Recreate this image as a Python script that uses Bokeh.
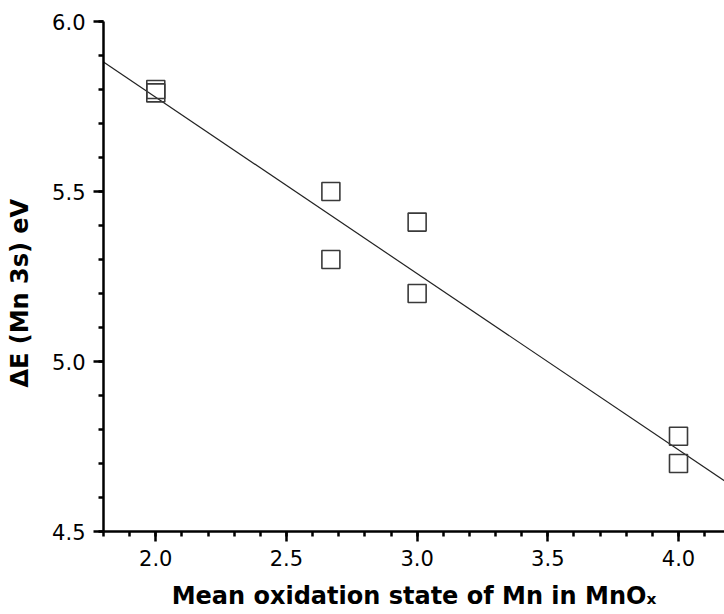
from bokeh.plotting import figure
from bokeh.models import Range1d, SingleIntervalTicker, PrintfTickFormatter
from bokeh.embed import file_html
from bokeh.resources import INLINE

# ---- data ----
oxidation_state = [2.0, 2.0, 2.67, 2.67, 3.0, 3.0, 4.0, 4.0]
delta_e = [5.80, 5.79, 5.50, 5.30, 5.41, 5.20, 4.78, 4.70]

# linear fit drawn in the reference (slope / intercept)
fit_slope = -0.5185
fit_intercept = 6.814

x_label = "Mean oxidation state of Mn in MnO\u2093"
y_label = "\u0394E (Mn 3s) eV"

X_START, X_END = 1.8, 4.176
Y_START, Y_END = 4.5, 6.0

W, H = 724, 614
p = figure(width=W, height=H, output_backend="svg", toolbar_location=None,
           x_range=Range1d(X_START, X_END), y_range=Range1d(Y_START, Y_END),
           min_border_left=103, min_border_right=0, min_border_top=21,
           min_border_bottom=83)
p.outline_line_color = None
p.xgrid.visible = False
p.ygrid.visible = False
p.background_fill_color = "white"
p.border_fill_color = "white"

for ax in (p.xaxis[0], p.yaxis[0]):
    ax.ticker = SingleIntervalTicker(interval=0.5, num_minor_ticks=5)
    ax.formatter = PrintfTickFormatter(format="%.1f")
    ax.axis_line_color = "black"
    ax.axis_line_width = 2.5
    ax.major_tick_line_color = "black"
    ax.major_tick_line_width = 2.5
    ax.minor_tick_line_color = "black"
    ax.minor_tick_line_width = 2.5
    ax.major_tick_in = 0
    ax.major_tick_out = 10
    ax.minor_tick_in = 0
    ax.minor_tick_out = 5
    ax.major_label_text_font = "DejaVu Sans"
    ax.major_label_text_font_size = "21px"
    ax.major_label_text_color = "black"
    ax.major_label_standoff = 8
    ax.axis_label_text_font = "DejaVu Sans"
    ax.axis_label_text_font_style = "bold"
    ax.axis_label_text_font_size = "24px"
    ax.axis_label_text_color = "black"

p.xaxis[0].axis_label = x_label
p.xaxis[0].axis_label_standoff = 13
# trailing no-break spaces shift the rotated title down along the axis, as in the reference
p.yaxis[0].axis_label = y_label + "\u00a0" * 4
p.yaxis[0].axis_label_standoff = 15

# fit line across the full x range (clipped by the frame)
fx = [X_START, X_END]
fy = [fit_intercept + fit_slope * v for v in fx]
p.line(fx, fy, line_color="#222222", line_width=1.2)

p.scatter(oxidation_state, delta_e, marker="square", size=18,
          fill_color=None, line_color="#3a3a3a", line_width=1.6)

open("out.html", "w").write(file_html(p, INLINE))
